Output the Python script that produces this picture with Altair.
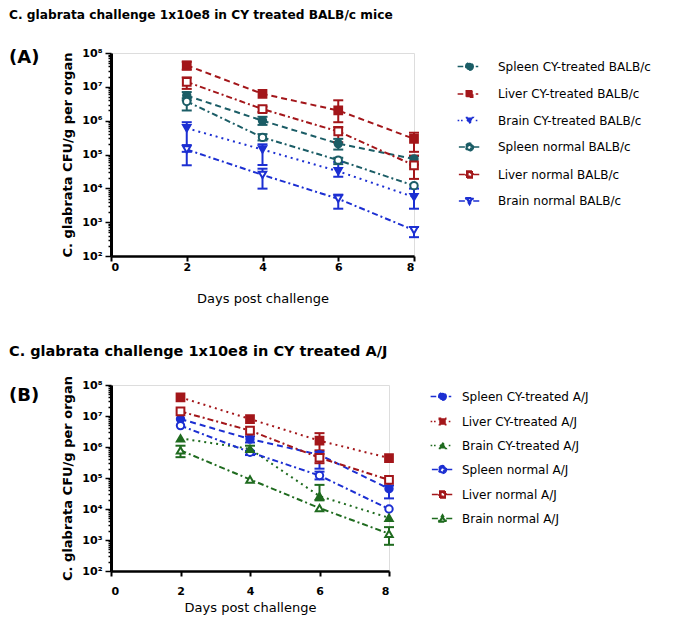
import altair as alt
import pandas as pd

days = [2, 4, 6, 8]

# ---------------- Panel A : BALB/c ----------------
series_a = ["Spleen CY-treated BALB/c", "Liver CY-treated BALB/c", "Brain CY-treated BALB/c",
            "Spleen normal BALB/c", "Liver normal BALB/c", "Brain normal BALB/c"]
spleen_cy_a = [5.5e6, 1.0e6, 2.1e5, 7.4e4]
liver_cy_a = [4.3e7, 6.2e6, 2.0e6, 2.9e5]
brain_cy_a = [6.0e5, 1.4e5, 3.2e4, 5.5e3]
spleen_n_a = [3.7e6, 3.2e5, 6.8e4, 1.2e4]
liver_n_a = [1.4e7, 2.2e6, 4.8e5, 4.8e4]
brain_n_a = [1.4e5, 2.5e4, 4.9e3, 5.8e2]
# error bar ends (low, high); None where no bar is visible
spleen_cy_a_lo = [4.0e6, 7.5e5, 1.4e5, 5.0e4]
spleen_cy_a_hi = [7.0e6, 1.3e6, 2.9e5, 9.0e4]
liver_cy_a_lo = [3.2e7, None, 9.0e5, 1.2e5]
liver_cy_a_hi = [5.5e7, None, 4.0e6, 4.4e5]
brain_cy_a_lo = [1.2e5, 4.9e4, 2.2e4, 2.5e3]
brain_cy_a_hi = [9.0e5, 2.0e5, 6.0e4, 9.8e3]
spleen_n_a_lo = [2.0e6, 2.6e5, 5.2e4, None]
spleen_n_a_hi = [4.6e6, 4.0e5, 8.0e4, None]
liver_n_a_lo = [8.7e6, 1.8e6, 2.3e5, 1.9e4]
liver_n_a_hi = [1.9e7, 2.6e6, 6.5e5, 9.3e4]
brain_n_a_lo = [4.8e4, 9.8e3, 2.5e3, 3.6e2]
brain_n_a_hi = [1.9e5, 3.8e4, 6.5e3, 7.2e2]

# ---------------- Panel B : A/J ----------------
series_b = ["Spleen CY-treated A/J", "Liver CY-treated A/J", "Brain CY-treated A/J",
            "Spleen normal A/J", "Liver normal A/J", "Brain normal A/J"]
spleen_cy_b = [8.0e6, 1.8e6, 5.6e5, 4.5e4]
liver_cy_b = [4.0e7, 8.0e6, 1.6e6, 4.4e5]
brain_cy_b = [1.9e6, 8.7e5, 2.6e4, 5.2e3]
spleen_n_b = [4.9e6, 6.8e5, 1.2e5, 1.0e4]
liver_n_b = [1.4e7, 3.4e6, 4.5e5, 8.7e4]
brain_n_b = [7.8e5, 9.0e4, 1.07e4, 1.6e3]
spleen_cy_b_lo = [None, 1.4e6, 2.0e5, 2.2e4]
spleen_cy_b_hi = [None, 2.2e6, 7.0e5, 5.7e4]
liver_cy_b_lo = [None, None, 7.8e5, None]
liver_cy_b_hi = [None, None, 2.8e6, None]
brain_cy_b_lo = [None, 7.0e5, 1.9e4, None]
brain_cy_b_hi = [None, 1.1e6, 6.0e4, None]
spleen_n_b_lo = [None, 5.5e5, 9.0e4, None]
spleen_n_b_hi = [None, 7.5e5, 1.6e5, None]
liver_n_b_lo = [None, None, 3.0e5, None]
liver_n_b_hi = [None, None, 6.0e5, None]
brain_n_b_lo = [4.7e5, None, None, 7.0e2]
brain_n_b_hi = [1.1e6, None, None, 2.6e3]

# ---------------- styles ----------------
RED = "#a3161a"
TEAL = "#1b5d66"
BLUE = "#1c2fd2"
GREEN = "#1f6b1f"
DASHED = [6, 4]
DOTTED = [2, 4]
DASHDOT = [6, 3, 2, 3]

colors_a = [TEAL, RED, BLUE, TEAL, RED, BLUE]
dashes_a = [DASHED, DASHED, DOTTED, DASHDOT, DASHDOT, DASHDOT]
shapes_a = ["circle", "square", "triangle-down", "circle", "square", "triangle-down"]
filled_a = [True, True, True, False, False, False]

colors_b = [BLUE, RED, GREEN, BLUE, RED, GREEN]
dashes_b = [DASHED, DOTTED, DOTTED, DASHDOT, DASHDOT, DASHDOT]
shapes_b = ["circle", "square", "triangle-up", "circle", "square", "triangle-up"]
filled_b = [True, True, True, False, False, False]

# legend glyphs: filled marker, or ring (outer contour + reversed inner contour) for open marker
MARK_PATH = {
    ("circle", True): "M0.3,0A0.3,0.3 0 1,1 -0.3,0A0.3,0.3 0 1,1 0.3,0Z",
    ("circle", False): "M0.32,0A0.32,0.32 0 1,1 -0.32,0A0.32,0.32 0 1,1 0.32,0Z"
                       "M0.15,0A0.15,0.15 0 1,0 -0.15,0A0.15,0.15 0 1,0 0.15,0Z",
    ("square", True): "M-0.26,-0.26H0.26V0.26H-0.26Z",
    ("square", False): "M-0.28,-0.28H0.28V0.28H-0.28Z M-0.13,-0.13V0.13H0.13V-0.13Z",
    ("triangle-down", True): "M-0.3,-0.24H0.3L0,0.28Z",
    ("triangle-down", False): "M-0.34,-0.27H0.34L0,0.31Z M-0.13,-0.15L0,0.06L0.13,-0.15Z",
    ("triangle-up", True): "M-0.3,0.24H0.3L0,-0.28Z",
    ("triangle-up", False): "M-0.34,0.27H0.34L0,-0.31Z M-0.13,0.15L0,-0.06L0.13,0.15Z",
}
SIDE_PATH = {
    "dashed": "M-0.95,0H-0.5M0.5,0H0.7",
    "dotted": "M-0.95,0H-0.82M-0.68,0H-0.55M0.5,0H0.63",
    "dashdot": "M-0.85,0H-0.3M0.3,0H0.85",
}


def dash_name(d):
    return "dashed" if d == DASHED else ("dotted" if d == DOTTED else "dashdot")


def build_df(series, vals, los, his):
    rows = []
    for s, v, lo, hi in zip(series, vals, los, his):
        for d, vv, l, h in zip(days, v, lo, hi):
            rows.append({"series": s, "day": d, "value": vv, "lo": l, "hi": h})
    return pd.DataFrame(rows)


df_a = build_df(series_a,
                [spleen_cy_a, liver_cy_a, brain_cy_a, spleen_n_a, liver_n_a, brain_n_a],
                [spleen_cy_a_lo, liver_cy_a_lo, brain_cy_a_lo, spleen_n_a_lo, liver_n_a_lo, brain_n_a_lo],
                [spleen_cy_a_hi, liver_cy_a_hi, brain_cy_a_hi, spleen_n_a_hi, liver_n_a_hi, brain_n_a_hi])
df_b = build_df(series_b,
                [spleen_cy_b, liver_cy_b, brain_cy_b, spleen_n_b, liver_n_b, brain_n_b],
                [spleen_cy_b_lo, liver_cy_b_lo, brain_cy_b_lo, spleen_n_b_lo, liver_n_b_lo, brain_n_b_lo],
                [spleen_cy_b_hi, liver_cy_b_hi, brain_cy_b_hi, spleen_n_b_hi, liver_n_b_hi, brain_n_b_hi])

y_ticks = [k * 10 ** n for n in range(2, 8) for k in range(1, 10)] + [1e8]
IS_POW = "abs(log(datum.value)/LN10 - round(log(datum.value)/LN10)) < 0.001"
LABEL_EXPR = ("(" + IS_POW + ") ? '10' + ['\u2070','\u00b9','\u00b2','\u00b3','\u2074','\u2075',"
              "'\u2076','\u2077','\u2078'][round(log(datum.value)/LN10)] : ''")
FONT = "DejaVu Sans"


def panel(df, series, colors, dashes, shapes, filled, w, h, title, tag, title_size,
          sub_pad, t_offset, legend_x, legend_y, row_pad, label_off, xlab_pad, xtitle_pad):
    color_scale = alt.Scale(domain=series, range=colors)
    fill_scale = alt.Scale(domain=series, range=[c if f else "white" for c, f in zip(colors, filled)])
    dash_scale = alt.Scale(domain=series, range=dashes)
    legend_paths = [SIDE_PATH[dash_name(d)] + MARK_PATH[(s, f)]
                    for d, s, f in zip(dashes, shapes, filled)]

    x = alt.X("day:Q", scale=alt.Scale(domain=[0, 8], nice=False),
              axis=alt.Axis(values=[0, 2, 4, 6, 8], title="Days post challenge", grid=False,
                            labelFont=FONT, labelFontWeight="bold", labelFontSize=11,
                            labelColor="black", titleFont=FONT, titleFontWeight="normal",
                            titleFontSize=13, titleColor="black", titlePadding=xtitle_pad,
                            domainColor="black", domainWidth=2.5, tickColor="black",
                            tickWidth=2, tickSize=5, labelPadding=xlab_pad))
    y_axis = alt.Axis(values=y_ticks, labelExpr=LABEL_EXPR, labelOverlap=False, grid=False,
                      title="C. glabrata CFU/g per organ", titleFont=FONT, titleFontWeight="bold",
                      titleFontSize=13, titleColor="black", titlePadding=7,
                      labelFont=FONT, labelFontWeight="bold", labelFontSize=11,
                      labelColor="black", labelPadding=3,
                      domainColor="black", domainWidth=3, tickColor="black", tickWidth=1.5,
                      tickSize={"condition": {"test": IS_POW, "value": 6}, "value": 3})
    y = alt.Y("value:Q", scale=alt.Scale(type="log", domain=[100, 1e8], nice=False), axis=y_axis)

    base = alt.Chart(df)

    # legend-only layer (no rows drawn); placed first so its legend settings win the merge
    leg = alt.Legend(title=None, orient="none", legendX=legend_x, legendY=legend_y,
                     labelFont=FONT, labelFontSize=12, labelColor="black",
                     symbolSize=625, symbolStrokeWidth=1.5, rowPadding=row_pad,
                     labelOffset=label_off, symbolOpacity=1)
    legend_layer = base.transform_filter("datum.day < 0").mark_point(
        size=625, strokeWidth=1.5, opacity=1, filled=False).encode(
        x=x, y=y,
        color=alt.Color("series:N", scale=color_scale, legend=leg),
        shape=alt.Shape("series:N", scale=alt.Scale(domain=series, range=legend_paths), legend=leg),
    )

    lines = base.mark_line(strokeWidth=2).encode(
        x="day:Q", y="value:Q",
        color=alt.Color("series:N", scale=color_scale, legend=None),
        strokeDash=alt.StrokeDash("series:N", scale=dash_scale, legend=None),
    )
    err = base.transform_filter("isValid(datum.lo)")
    rules = err.mark_rule(strokeWidth=2).encode(
        x="day:Q", y="lo:Q", y2="hi:Q",
        color=alt.Color("series:N", scale=color_scale, legend=None))
    cap_lo = err.mark_tick(orient="horizontal", size=10, thickness=2, opacity=1).encode(
        x="day:Q", y="lo:Q", color=alt.Color("series:N", scale=color_scale, legend=None))
    cap_hi = err.mark_tick(orient="horizontal", size=10, thickness=2, opacity=1).encode(
        x="day:Q", y="hi:Q", color=alt.Color("series:N", scale=color_scale, legend=None))

    point_layers = []
    for shp in sorted(set(shapes)):
        members = [s for s, sh in zip(series, shapes) if sh == shp]
        size = 60 if shp == "square" else 55
        point_layers.append(
            base.transform_filter(alt.FieldOneOfPredicate(field="series", oneOf=members))
            .mark_point(shape=shp, size=size, strokeWidth=2, opacity=1, filled=False)
            .encode(x="day:Q", y="value:Q",
                    color=alt.Color("series:N", scale=color_scale, legend=None),
                    fill=alt.Fill("series:N", scale=fill_scale, legend=None))
        )

    return alt.layer(legend_layer, lines, rules, cap_lo, cap_hi, *point_layers).properties(
        width=w, height=h,
        title=alt.TitleParams(text=title, subtitle=tag, anchor="start", frame="group", dx=-102,
                              offset=t_offset, font=FONT, fontSize=title_size, fontWeight="bold",
                              color="black", subtitleFont=FONT, subtitleFontSize=18,
                              subtitleFontWeight="bold", subtitleColor="black",
                              subtitlePadding=sub_pad),
    )


chart_a = panel(df_a, series_a, colors_a, dashes_a, shapes_a, filled_a, 303, 203,
                "C. glabrata challenge 1x10e8 in CY treated BALB/c mice", "(A)", 12.2,
                28, -20, 345, 0, 6.5, 15, 0, 20)
chart_b = panel(df_b, series_b, colors_b, dashes_b, shapes_b, filled_b, 278, 186,
                "C. glabrata challenge 1x10e8 in CY treated A/J", "(B)", 14.5,
                27, -30, 318, -2, 4, 6, 9, 5)

chart = alt.vconcat(chart_a, chart_b, spacing=37).resolve_scale(
    color="independent", fill="independent", strokeDash="independent", shape="independent"
).resolve_legend(
    color="independent", fill="independent", strokeDash="independent", shape="independent"
).properties(
    padding={"left": 0, "top": 0, "right": 0, "bottom": 0}
).configure_view(stroke=None).configure(background="white")

chart.save("out.html", embed_options={"renderer": "svg", "actions": False})
